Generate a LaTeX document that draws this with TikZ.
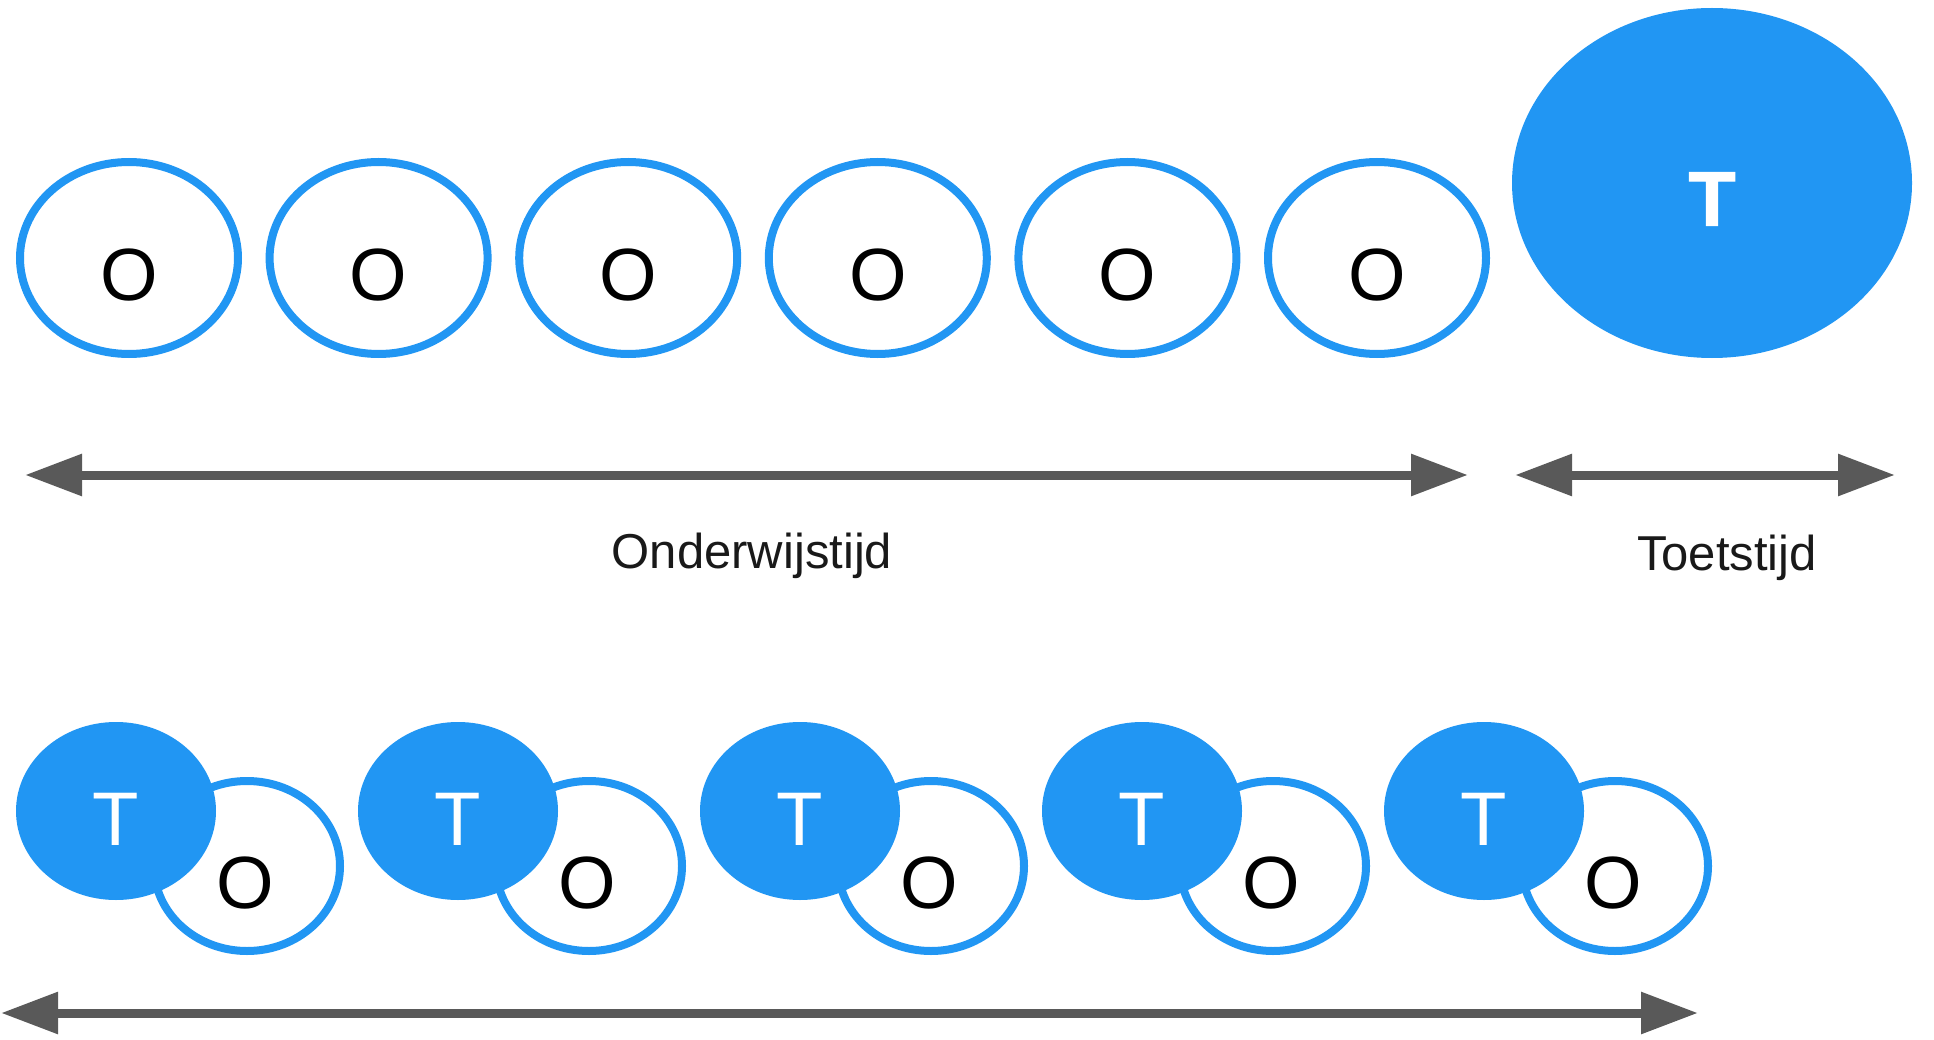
\documentclass[tikz,border=0pt]{standalone}
\usepackage{fontspec}
\setmainfont{Liberation Sans}[BoldFont={Liberation Sans Bold}]
\newfontfamily\heavyT{Liberation Sans Bold}[FakeBold=1.5]
\usetikzlibrary{shapes.geometric,arrows.meta}
\definecolor{tblue}{HTML}{2196F3}
\definecolor{agray}{HTML}{595959}
\tikzset{
  oring/.style={ellipse,draw=tblue,line width=8pt,fill=white,inner sep=0pt},
  tblob/.style={ellipse,fill=tblue,draw=none,inner sep=0pt},
  olet/.style={inner sep=0pt,font=\fontsize{74}{80}\selectfont,text=black},
  tlet/.style={inner sep=0pt,font=\fontsize{76}{80}\selectfont,text=white},
  tbig/.style={inner sep=0pt,font=\heavyT\fontsize{77}{84}\selectfont,text=white},
  lab/.style={inner sep=0pt,anchor=base,font=\fontsize{49}{55}\selectfont,text=black!90},
  timearrow/.style={draw=agray,line width=9pt,{Triangle[length=57pt,width=40pt]}-{Triangle[length=57pt,width=40pt]}}
}
\begin{document}
\begin{tikzpicture}[x=1pt,y=-1pt]
\useasboundingbox (0,0) rectangle (1934,1040);
% top row
\foreach \i in {0,...,5}{
  \node[oring,minimum width=218pt,minimum height=192pt] (o\i) at ({129+249.6*\i},258) {};
  \node[olet] (ol\i) at ({129+249.6*\i},275) {O};
}
\node[tblob,minimum width=400pt,minimum height=350pt] (tb) at (1712,183) {};
\node[tbig] (tbl) at (1712,199) {T};
% top arrows
\coordinate (a1) at (25,475);
\coordinate (a2) at (1468,475);
\coordinate (b1) at (1515,475);
\coordinate (b2) at (1895,475);
\draw[timearrow] (a1) -- (a2);
\draw[timearrow] (b1) -- (b2);
\node[lab] (onder) at (752,568) {Onderwijstijd};
\node[lab] (toets) at (1727,570) {Toetstijd};
% bottom row
\foreach \i in {0,...,4}{
  \node[oring,minimum width=186pt,minimum height=170pt] (po\i) at ({247+342*\i},866) {};
  \node[olet] (pol\i) at ({245+342*\i},883) {O};
  \node[tblob,minimum width=200pt,minimum height=178pt] (pt\i) at ({116+342*\i},811) {};
  \node[tlet] (ptl\i) at ({116+342*\i},819) {T};
}
\coordinate (c1) at (1,1013);
\coordinate (c2) at (1698,1013);
\draw[timearrow] (c1) -- (c2);
\end{tikzpicture}
\end{document}
